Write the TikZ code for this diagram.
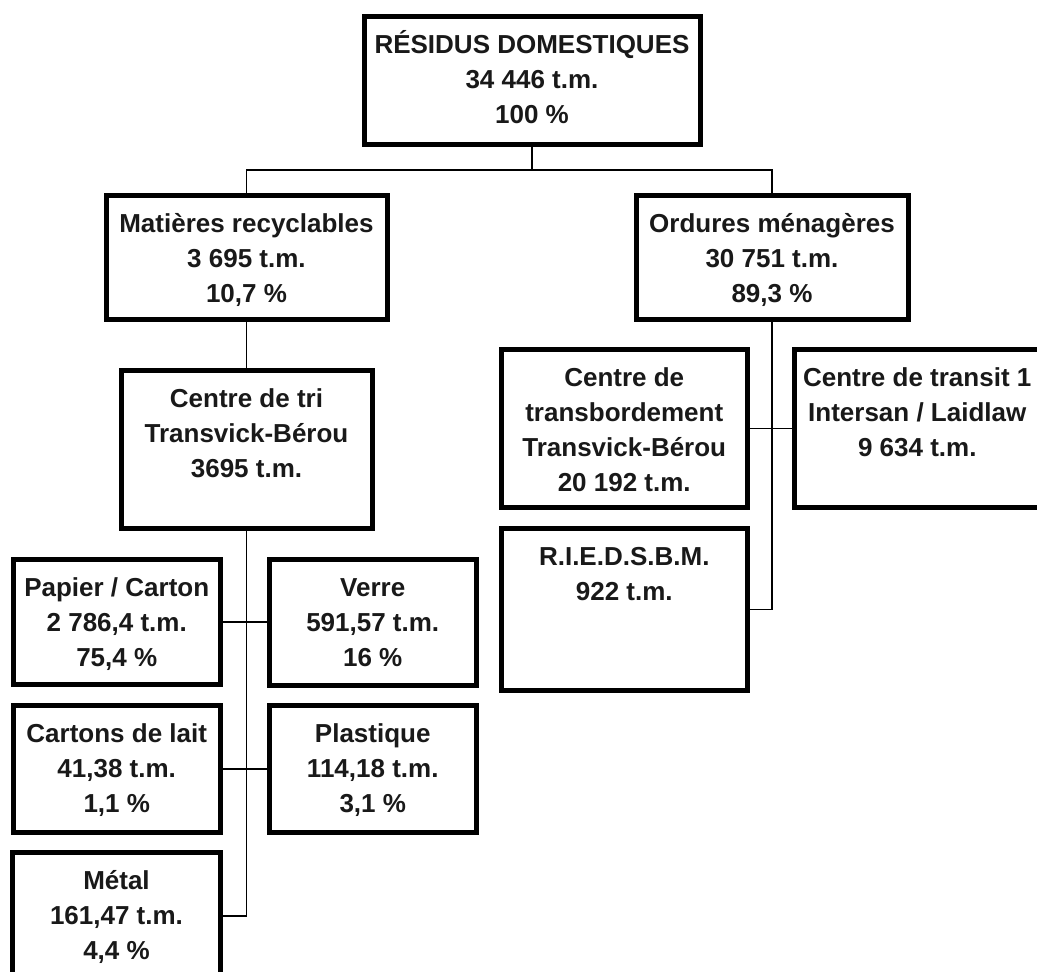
\documentclass[tikz,border=0pt]{standalone}
\usepackage{fontspec}
\setmainfont{Liberation Sans}
\newcommand{\bxt}[3]{\parbox[c][#2][t]{#1}{\centering\baselineskip=35pt\rule{0pt}{37pt}#3}}
\begin{document}
\begin{tikzpicture}[x=1pt,y=-1pt,
  box/.style={draw=black,line width=5pt,inner sep=0pt,outer sep=0pt,rectangle,
    font=\fontsize{26pt}{35pt}\selectfont\bfseries,text=black!90},
  conn/.style={draw=black,line width=1.5pt}]
\useasboundingbox (0,0) rectangle (1037,972);
\clip (0,0) rectangle (1037,972);
\fill[white] (0,0) rectangle (1037,972);

\node[box] (top) at (532,80) {\bxt{336pt}{128pt}{RÉSIDUS DOMESTIQUES\\34 446 t.m.\\100 \%}};
\node[box] (mat) at (246.5,257) {\bxt{281pt}{124pt}{Matières recyclables\\3 695 t.m.\\10,7 \%}};
\node[box] (ord) at (772,257) {\bxt{272pt}{124pt}{Ordures ménagères\\30 751 t.m.\\89,3 \%}};
\node[box] (tri) at (246.5,449.25) {\bxt{251pt}{157.5pt}{Centre de tri\\Transvick-Bérou\\3695 t.m.}};
\node[box] (tb) at (624.25,428.5) {\bxt{245.5pt}{158pt}{Centre de\\transbordement\\Transvick-Bérou\\20 192 t.m.}};
\node[box] (tt) at (917.25,428.5) {\bxt{245.5pt}{158pt}{Centre de transit 1\\Intersan / Laidlaw\\9 634 t.m.}};
\node[box] (ried) at (624.25,609.25) {\bxt{245.5pt}{161.5pt}{R.I.E.D.S.B.M.\\922 t.m.}};
\node[box] (pap) at (116.75,622) {\bxt{207.5pt}{125pt}{Papier / Carton\\2 786,4 t.m.\\75,4 \%}};
\node[box] (ver) at (372.75,622) {\bxt{206.5pt}{126pt}{Verre\\591,57 t.m.\\16 \%}};
\node[box] (car) at (116.75,769) {\bxt{207.5pt}{127pt}{Cartons de lait\\41,38 t.m.\\1,1 \%}};
\node[box] (pla) at (372.75,769) {\bxt{206.5pt}{127pt}{Plastique\\114,18 t.m.\\3,1 \%}};
\node[box] (met) at (116.5,916) {\bxt{208pt}{127pt}{Métal\\161,47 t.m.\\4,4 \%}};

\coordinate (j1) at (532,170);
\draw[conn] (top.south) -- (j1);
\draw[conn] (mat.north) |- (j1) -| (ord.north);
\draw[conn] (mat.south) -- (tri.north);
\draw[conn] (ord.south) |- (ried.east);
\draw[conn] (tb.east) -- (tt.west);
\draw[conn] (tri.south) |- (met.east);
\draw[conn] (pap.east) -- (ver.west);
\draw[conn] (car.east) -- (pla.west);
\end{tikzpicture}
\end{document}
